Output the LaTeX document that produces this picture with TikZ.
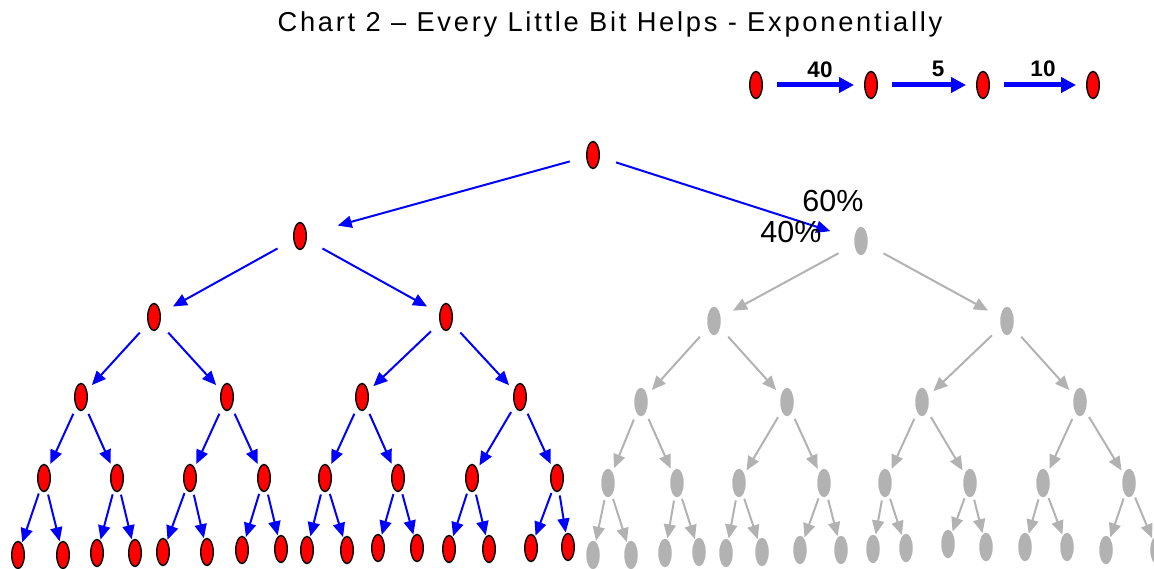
\documentclass[tikz,border=0pt]{standalone}
\usepackage{fontspec}
\setmainfont{Liberation Sans}
\newfontfamily\titlefont[LetterSpace=10]{Liberation Sans}
\usetikzlibrary{shapes.geometric,arrows.meta}
\definecolor{grayc}{HTML}{B2B2B2}
\begin{document}
\begin{tikzpicture}[x=1pt,y=-1pt,
  rn/.style={ellipse,draw=black,line width=1.4pt,fill=red,minimum width=12.5pt,minimum height=27pt,inner sep=0pt},
  gn/.style={ellipse,fill=grayc,minimum width=13.5pt,minimum height=28.5pt,inner sep=0pt},
  be/.style={draw=blue,line width=2pt,-{Triangle[length=14pt,width=12pt]}},
  ge/.style={draw=grayc,line width=2pt,-{Triangle[length=14pt,width=12pt]}},
  ce/.style={draw=blue,line width=5pt,-{Triangle[length=15pt,width=15pt]},shorten <=14pt,shorten >=10pt},
  sa/.style={shorten <=17pt,shorten >=32pt},
  sb/.style={shorten <=17pt,shorten >=25pt},
  s1/.style={shorten <=18pt,shorten >=14pt},
  s2/.style={shorten <=12pt,shorten >=7pt},
  s3/.style={shorten <=7pt,shorten >=4pt},
  s4/.style={shorten <=4pt,shorten >=1pt},
  pct/.style={font=\fontsize{30.5}{34}\selectfont,anchor=base,inner sep=0pt},
  num/.style={font=\fontsize{22.5}{26}\selectfont\bfseries,anchor=base,inner sep=0pt}]
\useasboundingbox (0,0) rectangle (1154,569);
\clip (0,0) rectangle (1154,569);
% title
\node[anchor=base,inner sep=0pt,font=\fontsize{27.3}{31}\selectfont\titlefont] (title) at (610,32) {Chart 2 – Every Little Bit Helps - Exponentially};
% chain
\node[rn] (c1) at (756,85) {};
\node[rn] (c2) at (871,85) {};
\node[rn] (c3) at (983,85) {};
\node[rn] (c4) at (1093,85) {};
\draw[ce] (c1) -- (c2);
\draw[ce] (c2) -- (c3);
\draw[ce] (c3) -- (c4);
\node[num] (n40) at (820,78) {40};
\node[num] (n5) at (938,77) {5};
\node[num] (n10) at (1043,77) {10};
% root
\node[rn] (r) at (593,155) {};
% red subtree
\foreach \n/\x/\y in {a/300/236,a0/154/317,a1/446/317,
  a00/81/397,a01/227/397,a10/362/397,a11/520/397,
  a000/44/478,a001/117/478,a010/190/478,a011/264/478,a100/325/478,a101/398/478,a110/472/478,a111/557/478,
  a0000/18/555,a0001/63/555,a0010/97/553,a0011/135/553,a0100/163/552,a0101/207/552,a0110/242/550,a0111/281/549,
  a1000/307/550,a1001/347/550,a1010/378/548,a1011/417/548,a1100/449/549,a1101/489/549,a1110/531/548,a1111/568/547}
  {\node[rn] (\n) at (\x,\y) {};}
% gray subtree
\foreach \n/\x/\y in {b/861/241,b0/714/321,b1/1007/321,
  b00/641/402,b01/787/402,b10/922/402,b11/1080/402,
  b000/608/483,b001/677/483,b010/739/483,b011/824/483,b100/885/483,b101/970/483,b110/1043/483,b111/1129/483,
  b0000/593/555,b0001/631/555,b0010/665/553,b0011/699/552,b0100/726/553,b0101/762/552,b0110/800/550,b0111/841/550,
  b1000/873/549,b1001/906/548,b1010/948/544,b1011/986/547,b1100/1025/547,b1101/1067/547,b1110/1106/550,b1111/1157/550}
  {\node[gn] (\n) at (\x,\y) {};}
% edges
\draw[be,sa] (r) -- (a);
\draw[be,sb] (r) -- (b);
\foreach \n in {a}{\draw[be,s1] (\n) -- (\n0); \draw[be,s1] (\n) -- (\n1);}
\foreach \n in {b}{\draw[ge,s1] (\n) -- (\n0); \draw[ge,s1] (\n) -- (\n1);}
\foreach \n in {a0,a1}{\draw[be,s2] (\n) -- (\n0); \draw[be,s2] (\n) -- (\n1);}
\foreach \n in {b0,b1}{\draw[ge,s2] (\n) -- (\n0); \draw[ge,s2] (\n) -- (\n1);}
\foreach \n in {a00,a01,a10,a11}{\draw[be,s3] (\n) -- (\n0); \draw[be,s3] (\n) -- (\n1);}
\foreach \n in {b00,b01,b10,b11}{\draw[ge,s3] (\n) -- (\n0); \draw[ge,s3] (\n) -- (\n1);}
\foreach \n in {a000,a001,a010,a011,a100,a101,a110,a111}{\draw[be,s4] (\n) -- (\n0); \draw[be,s4] (\n) -- (\n1);}
\foreach \n in {b000,b001,b010,b011,b100,b101,b110,b111}{\draw[ge,s4] (\n) -- (\n0); \draw[ge,s4] (\n) -- (\n1);}
% percentages
\node[pct] (p60) at (833,212) {60\%};
\node[pct] (p40) at (791,243) {40\%};
\end{tikzpicture}
\end{document}
